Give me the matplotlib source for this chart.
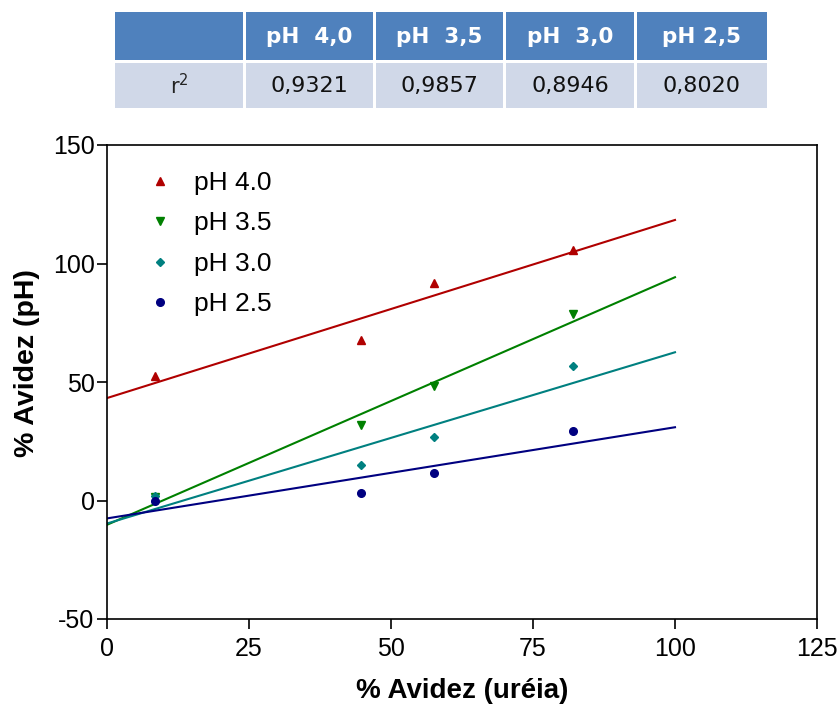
import numpy as np
import matplotlib
matplotlib.use('Agg')
import matplotlib.pyplot as plt
from matplotlib.patches import Rectangle

# data
x_urea = [8.4, 44.7, 57.6, 82.0]
ph40 = [52.4, 67.7, 91.8, 105.8]
ph35 = [1.5, 31.7, 48.2, 78.9]
ph30 = [2.0, 14.8, 26.8, 56.8]
ph25 = [0.0, 3.0, 11.7, 29.2]

labels = ['pH 4.0', 'pH 3.5', 'pH 3.0', 'pH 2.5']
table_head = ['pH  4,0', 'pH  3,5', 'pH  3,0', 'pH 2,5']
r2 = ['0,9321', '0,9857', '0,8946', '0,8020']

colors = ['#b00000', '#008000', '#008080', '#000080']
markers = ['^', 'v', 'D', 'o']
msizes = [6, 6, 4.5, 5.5]

plt.rcParams['axes.unicode_minus'] = False
arial = ['Liberation Sans', 'DejaVu Sans']

fig = plt.figure(figsize=(8.39, 7.06), dpi=100)
ax = fig.add_axes([107/839, 87/706, 710/839, 474/706])

series = [ph40, ph35, ph30, ph25]
xfit = np.array([0, 100])
for ys, c, m, ms, lab in zip(series, colors, markers, msizes, labels):
    k, b = np.polyfit(x_urea, ys, 1)
    ax.plot(xfit, k*xfit + b, color=c, lw=1.5)
    ax.plot(x_urea, ys, ls='none', marker=m, color=c, ms=ms, label=lab)

ax.set_xlim(0, 125)
ax.set_ylim(-50, 150)
ax.set_xticks([0, 25, 50, 75, 100, 125])
ax.set_yticks([-50, 0, 50, 100, 150])
ax.tick_params(direction='out', length=7, width=1.2, labelsize=18)
ax.tick_params(axis='y', pad=2)
ax.tick_params(axis='x', pad=6)
for t in ax.get_xticklabels() + ax.get_yticklabels():
    t.set_family(arial)
for s in ax.spines.values():
    s.set_linewidth(1.2)

ax.set_xlabel('% Avidez (uréia)', fontsize=20, fontweight='bold', family=arial, labelpad=12)
ax.set_ylabel('% Avidez (pH)', fontsize=20.5, fontweight='bold', family=arial)
ax.yaxis.set_label_coords(-0.095, 0.54)

leg = ax.legend(loc='upper left', bbox_to_anchor=(0.022, 0.995), frameon=False,
                prop={'family': arial, 'size': 19}, numpoints=1, handlelength=1.0,
                handletextpad=0.8, labelspacing=0.62)

# r2 table at the top
tab = fig.add_axes([0, 0, 1, 1], zorder=-1)
tab.set_xlim(0, 839)
tab.set_ylim(706, 0)
tab.axis('off')
col_x = [115, 246, 376, 506, 637]
col_w = [128, 127, 127, 128, 130]
for i, (cx, cw) in enumerate(zip(col_x, col_w)):
    tab.add_patch(Rectangle((cx, 12), cw, 48, color='#4f81bd', lw=0))
    tab.add_patch(Rectangle((cx, 63), cw, 45, color='#d0d8e8', lw=0))
    if i == 0:
        tab.text(cx + cw/2, 86, 'r$^2$', ha='center', va='center', fontsize=15, color='#222222')
    else:
        tab.text(cx + cw/2, 37, table_head[i-1], ha='center', va='center', fontsize=15.5,
                 fontweight='bold', color='white')
        tab.text(cx + cw/2, 86, r2[i-1], ha='center', va='center', fontsize=16, color='#111111')

fig.savefig('out.png', dpi=100)
